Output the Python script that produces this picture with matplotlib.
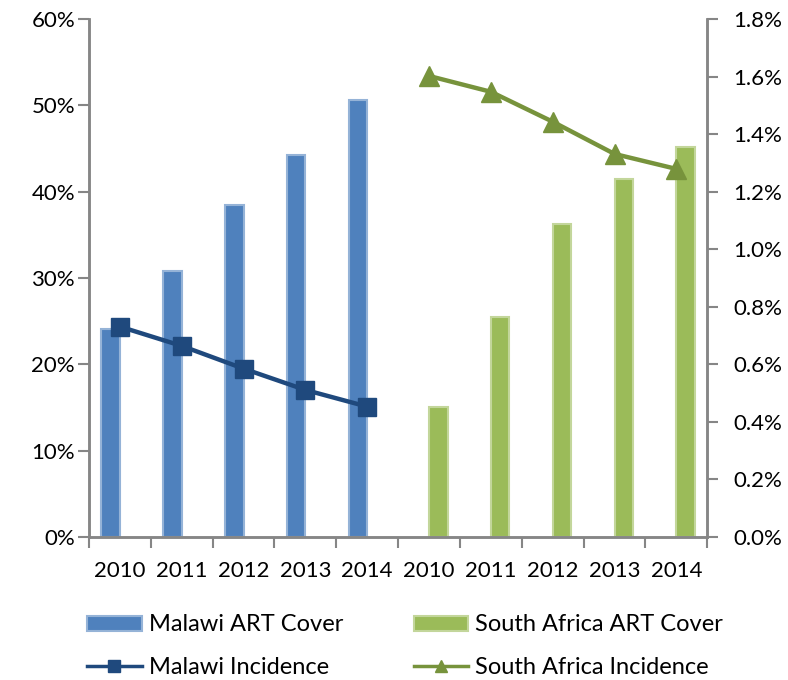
import matplotlib
matplotlib.use("Agg")
import matplotlib.pyplot as plt
from matplotlib.ticker import FuncFormatter
from matplotlib.lines import Line2D
from matplotlib.patches import Patch

plt.rcParams['font.family'] = ['Lato', 'DejaVu Sans']

categories = ["2010", "2011", "2012", "2013", "2014", "2010", "2011", "2012", "2013", "2014"]
malawi_art = [24.1, 30.8, 38.5, 44.2, 50.6]          # % (left axis)
sa_art = [15.1, 25.5, 36.3, 41.5, 45.2]              # % (left axis)
malawi_inc = [0.731, 0.664, 0.585, 0.511, 0.453]     # % (right axis)
sa_inc = [1.602, 1.547, 1.443, 1.331, 1.279]         # % (right axis)

c_mw_bar, c_mw_edge = "#4F81BD", "#95B3D7"
c_sa_bar, c_sa_edge = "#9BBB59", "#C3D69B"
c_mw_line, c_sa_line = "#1F497D", "#77933C"
spine_c = "#868686"
fs = 16

fig = plt.figure(figsize=(7.88, 6.8), dpi=100)
ax = fig.add_axes([89/788, 1-537/680, (707.3-89)/788, (537-19)/680])
ax2 = ax.twinx()

n = len(categories)
bw = 0.3
mw_x = [i - bw/2 for i in range(5)]
sa_x = [5 + i + bw/2 for i in range(5)]
ax.bar(mw_x, malawi_art, width=bw, color=c_mw_bar, edgecolor=c_mw_edge, linewidth=1.5, zorder=2)
ax.bar(sa_x, sa_art, width=bw, color=c_sa_bar, edgecolor=c_sa_edge, linewidth=1.5, zorder=2)

ax2.plot(range(5), malawi_inc, color=c_mw_line, lw=3.2, marker="s", markersize=13,
         markerfacecolor=c_mw_line, markeredgecolor=c_mw_line, zorder=3)
ax2.plot(range(5, 10), sa_inc, color=c_sa_line, lw=3.2, marker="^", markersize=14,
         markerfacecolor=c_sa_line, markeredgecolor=c_sa_line, zorder=3)

ax.set_xlim(-0.5, n - 0.5)
ax.set_ylim(0, 60)
ax2.set_ylim(0, 1.8)
ax.set_yticks(range(0, 61, 10))
ax2.set_yticks([i * 0.2 for i in range(10)])
ax.yaxis.set_major_formatter(FuncFormatter(lambda v, p: f"{v:.0f}%"))
ax2.yaxis.set_major_formatter(FuncFormatter(lambda v, p: f"{v:.1f}%"))

ax.set_xticks(range(n))
ax.set_xticklabels(categories)
ax.set_xticks([i - 0.5 for i in range(n + 1)], minor=True)
ax.tick_params(axis="x", which="major", length=0, pad=17, labelsize=fs)
ax.tick_params(axis="x", which="minor", length=8, width=1.5, color=spine_c, direction="out")
ax.tick_params(axis="y", length=8, width=1.5, color=spine_c, pad=2, labelsize=fs)
ax2.tick_params(axis="y", length=8, width=1.5, color=spine_c, pad=11, labelsize=fs)

for a in (ax, ax2):
    a.spines["top"].set_visible(False)
    for s in ("left", "right", "bottom"):
        a.spines[s].set_color(spine_c)
        a.spines[s].set_linewidth(1.8)
ax.set_zorder(1)
ax2.set_zorder(2)
ax2.patch.set_visible(False)

handles = [
    Patch(facecolor=c_mw_bar, edgecolor=c_mw_edge, linewidth=1.5),
    Line2D([], [], color=c_mw_line, lw=2.5, marker="s", markersize=8),
    Patch(facecolor=c_sa_bar, edgecolor=c_sa_edge, linewidth=1.5),
    Line2D([], [], color=c_sa_line, lw=2.5, marker="^", markersize=9),
]
labels = ["Malawi ART Cover", "Malawi Incidence", "South Africa ART Cover", "South Africa Incidence"]
fig.legend(handles, labels, ncol=2, loc="center left", bbox_to_anchor=(66/788, 1-646/680),
           frameon=False, prop={"size": 17}, handlelength=2.3, handleheight=0.6, handletextpad=0.3,
           columnspacing=3.0, labelspacing=0.9)

fig.savefig("out.png", dpi=100)
